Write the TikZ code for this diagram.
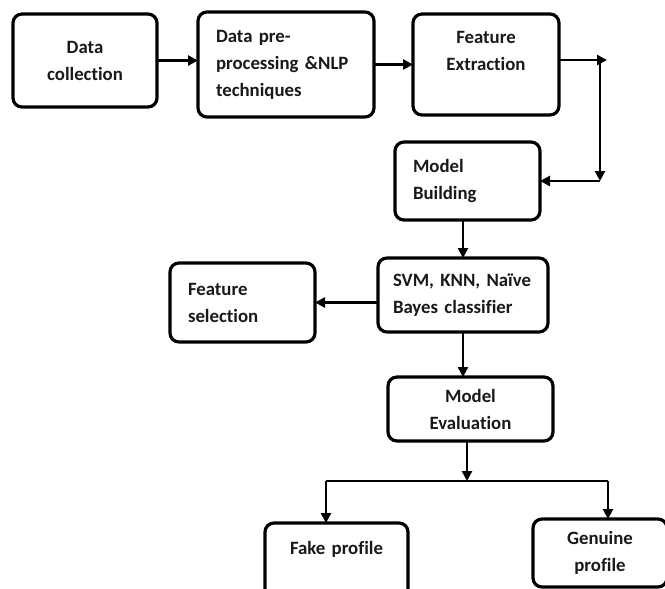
\documentclass[tikz,border=0pt]{standalone}
\usepackage{fontspec}
\setmainfont[Ligatures={NoCommon}]{Carlito}
\usetikzlibrary{arrows.meta}
\usetikzlibrary{positioning}

\begin{document}
\begin{tikzpicture}[semithick]
  \tikzstyle{blk}=[draw, line width=3.2pt, rounded corners=9pt, outer sep=0pt, inner xsep=18pt, inner ysep=3pt, font=\fontsize{18.8}{27}\selectfont\bfseries, text=black!90]
  \tikzstyle{arr}=[line width=2.6pt, -{Triangle[length=10pt,width=10pt]}]
  \useasboundingbox (0,0) rectangle (665pt,-589pt);
  \clip (0,0) rectangle (665pt,-589pt);
    \node[blk, text width=108pt, minimum height=93pt, align=center] (dc) at (85pt,-60.5pt) {Data\\collection};
    \node[blk, text width=140pt, minimum height=105pt, align=left] (pre) [right=41pt of dc, yshift=-4pt] {Data pre-\\processing \&NLP\\techniques};
    \node[blk, text width=110pt, minimum height=101pt, align=center] (fe) [right=39pt of pre] {Feature\\Extraction\\\mbox{}};
    \node[blk, text width=109pt, minimum height=78pt, align=left] (mb) [below=27pt of fe, xshift=-18.5pt] {Model\\Building};
    \node[blk, text width=140pt, inner xsep=15pt, minimum height=74pt, align=left] (svm) [below=38pt of mb, xshift=-4.5pt] {SVM, KNN, Naïve\\Bayes classifier};
    \node[blk, text width=109pt, minimum height=79pt, align=left] (fs) [left=63pt of svm, yshift=-7.5pt] {Feature\\selection};
    \node[blk, text width=129pt, minimum height=64pt, align=center] (me) [below=45pt of svm, xshift=7.5pt] {Model\\Evaluation};
    \node[blk, text width=107pt, minimum height=77pt, align=center] (fake) [below=82pt of me, xshift=-134pt] {Fake profile\\\mbox{}};
    \node[blk, text width=98pt, minimum height=68pt, align=center] (gen) [right=125pt of fake, yshift=8.5pt] {Genuine\\profile};

    \draw[arr] (dc.east) -- (dc.east -| pre.west);
    \draw[arr] (pre.east) -- (fe.west);
    \coordinate (tr) at ([xshift=48pt,yshift=4.5pt]fe.east);
    \coordinate (vt) at ([xshift=-7pt]tr);
    \coordinate (vb) at (vt |- mb.east);
    \draw[arr] ([yshift=4.5pt]fe.east) -- (tr);
    \draw[arr] (vt) -- (vb);
    \draw[arr] (vb) -- (mb.east);
    \draw[arr] (mb.south -| svm.north) -- (svm.north);
    \draw[arr] (svm.west |- fs.east) -- (fs.east);
    \draw[arr] (svm.south) -- (svm.south |- me.north);
    \coordinate (sp) at ([xshift=-3.5pt,yshift=-40pt]me.south);
    \coordinate (bl) at ([xshift=-141pt]sp);
    \coordinate (br) at ([xshift=141pt]sp);
    \draw[arr] ([xshift=-3.5pt]me.south) -- (sp);
    \draw[line width=2.6pt] (bl) -- (br);
    \draw[arr] (bl) -- (bl |- fake.north);
    \draw[arr] (br) -- (br |- gen.north);
\end{tikzpicture}
\end{document}
